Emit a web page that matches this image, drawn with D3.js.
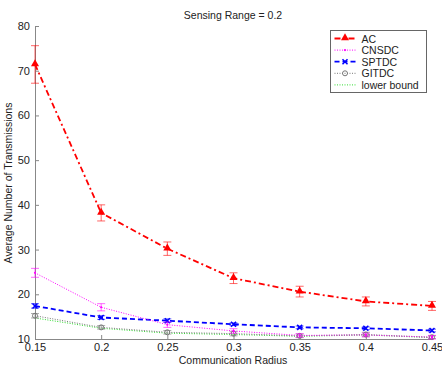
<!DOCTYPE html>
<html>
<head>
<meta charset="utf-8">
<script src="https://cdn.jsdelivr.net/npm/d3@7"></script>
<style>
  body { margin: 0; background: #fff; }
  text { font-family: "Liberation Sans", Arial, sans-serif; }
</style>
</head>
<body>
<div id="chart"></div>
<script>
const radius = [0.15, 0.2, 0.25, 0.3, 0.35, 0.4, 0.45];
const xTicks = ['0.15', '0.2', '0.25', '0.3', '0.35', '0.4', '0.45'];
const yTicks = [10, 20, 30, 40, 50, 60, 70, 80];

const acVals = [71.4, 38.2, 30.2, 23.6, 20.6, 18.4, 17.4];
const acErr = [4.2, 1.8, 1.5, 1.2, 1.2, 1.0, 1.0];
const cnsdcVals = [24.8, 17.1, 13.2, 11.8, 10.8, 10.9, 10.4];
const cnsdcErr = [1.0, 0.8, 0.6, 0.5, 0.4, 0.4, 0.4];
const sptdcVals = [17.4, 14.8, 14.1, 13.3, 12.6, 12.4, 11.9];
const sptdcErr = [0.5, 0.4, 0.4, 0.3, 0.3, 0.3, 0.3];
const gitdcVals = [15.2, 12.6, 11.5, 11.2, 10.7, 11.0, 10.4];
const gitdcErr = [0.5, 0.4, 0.4, 0.5, 0.4, 0.5, 0.3];
const lowerVals = [14.7, 12.4, 11.3, 11.0, 10.6, 10.9, 10.3];

const series = [
  { name: 'AC', vals: acVals, err: acErr, color: '#ff0000', width: 1.8, dash: '6,3,2,3', marker: 'triangle' },
  { name: 'CNSDC', vals: cnsdcVals, err: cnsdcErr, color: '#ff00ff', width: 1, dash: '1,1.5', marker: 'dot' },
  { name: 'SPTDC', vals: sptdcVals, err: sptdcErr, color: '#0000ff', width: 1.8, dash: '5,3', marker: 'x' },
  { name: 'GITDC', vals: gitdcVals, err: gitdcErr, color: '#777777', width: 1, dash: '1,1.5', marker: 'circle' },
  { name: 'lower bound', vals: lowerVals, err: null, color: '#33dd33', width: 1, dash: '1,1.5', marker: null }
];

const width = 442, height = 366;
const margin = { top: 26, right: 10, bottom: 27, left: 35 };
const fs = '10.5px';

const svg = d3.select('#chart').append('svg')
  .attr('width', width).attr('height', height);

const x = d3.scaleLinear().domain([0.15, 0.45]).range([margin.left, width - margin.right]);
const y = d3.scaleLinear().domain([10, 80]).range([height - margin.bottom, margin.top]);

// axes
const xAxis = svg.append('g')
  .attr('transform', 'translate(0,' + (height - margin.bottom) + ')')
  .call(d3.axisBottom(x).tickValues(radius).tickFormat((d, i) => xTicks[i]).tickSize(-4).tickPadding(4));
const yAxis = svg.append('g')
  .attr('transform', 'translate(' + margin.left + ',0)')
  .call(d3.axisLeft(y).tickValues(yTicks).tickSize(-4).tickPadding(5));

[xAxis, yAxis].forEach(function (g) {
  g.select('.domain').attr('stroke', '#888');
  g.selectAll('.tick line').attr('stroke', '#888');
  g.selectAll('.tick text').attr('fill', '#222').style('font-size', '11px')
    .style('font-family', '"Liberation Sans", Arial, sans-serif');
});

const plot = svg.append('g');

function drawMarker(g, type, cx, cy, color) {
  if (type === 'triangle') {
    g.append('path').attr('d', d3.symbol().type(d3.symbolTriangle).size(28)())
      .attr('transform', 'translate(' + cx + ',' + (cy - 0.5) + ')').attr('fill', color);
  } else if (type === 'dot') {
    g.append('circle').attr('cx', cx).attr('cy', cy).attr('r', 1.1).attr('fill', color);
  } else if (type === 'x') {
    g.append('path').attr('d', 'M-2.5,-2.5L2.5,2.5M-2.5,2.5L2.5,-2.5')
      .attr('transform', 'translate(' + cx + ',' + cy + ')')
      .attr('stroke', color).attr('stroke-width', 1.5).attr('fill', 'none');
  } else if (type === 'circle') {
    g.append('circle').attr('cx', cx).attr('cy', cy).attr('r', 2.5)
      .attr('fill', 'none').attr('stroke', color).attr('stroke-width', 1);
  }
}

const line = d3.line().x((d, i) => x(radius[i])).y(d => y(d));

series.slice().reverse().forEach(function (s) {
  const g = plot.append('g');
  g.append('path').datum(s.vals).attr('d', line)
    .attr('fill', 'none').attr('stroke', s.color)
    .attr('stroke-width', s.width).attr('stroke-dasharray', s.dash);
  if (s.err) {
    s.vals.forEach(function (v, i) {
      const cx = x(radius[i]);
      const y0 = y(v - s.err[i]), y1 = y(v + s.err[i]);
      g.append('path')
        .attr('d', 'M' + cx + ',' + y0 + 'V' + y1 + 'M' + (cx - 4) + ',' + y0 + 'H' + (cx + 4) + 'M' + (cx - 4) + ',' + y1 + 'H' + (cx + 4))
        .attr('stroke', s.color).attr('stroke-opacity', 0.6).attr('stroke-width', 1).attr('fill', 'none');
    });
  }
  if (s.marker) {
    s.vals.forEach((v, i) => drawMarker(g, s.marker, x(radius[i]), y(v), s.color));
  }
});

// title and labels
svg.append('text').attr('x', 233).attr('y', 19).attr('text-anchor', 'middle')
  .style('font-size', fs).attr('fill', '#222').text('Sensing Range = 0.2');
svg.append('text').attr('x', 233).attr('y', 364).attr('text-anchor', 'middle')
  .style('font-size', fs).attr('fill', '#222').text('Communication Radius');
svg.append('text').attr('transform', 'translate(12,' + 183 + ') rotate(-90)')
  .attr('text-anchor', 'middle').style('font-size', fs).attr('fill', '#222')
  .text('Average Number of Transmissions');

// legend
const legend = svg.append('g').attr('transform', 'translate(330.5,30.5)');
legend.append('rect').attr('width', 96).attr('height', 62)
  .attr('fill', '#fff').attr('stroke', '#666').attr('stroke-width', 1);
series.forEach(function (s, i) {
  const ly = 8 + i * 11.6;
  legend.append('line').attr('x1', 4).attr('x2', 25).attr('y1', ly).attr('y2', ly)
    .attr('stroke', s.color).attr('stroke-width', s.width).attr('stroke-dasharray', s.dash);
  if (s.marker) drawMarker(legend, s.marker, 14.5, ly, s.color);
  legend.append('text').attr('x', 31).attr('y', ly + 4)
    .style('font-size', fs).attr('fill', '#222').text(s.name);
});
</script>
</body>
</html>
